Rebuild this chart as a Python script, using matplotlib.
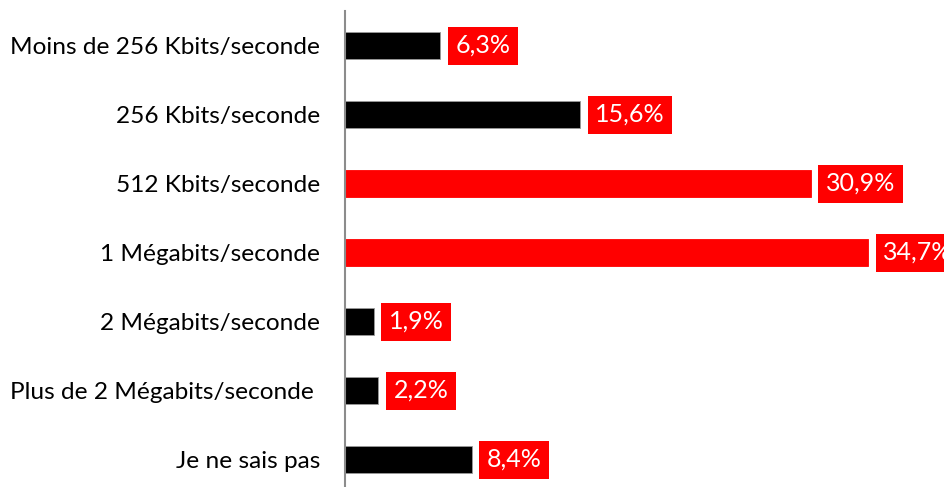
import matplotlib
matplotlib.use("Agg")
import matplotlib.pyplot as plt

categories = ["Moins de 256 Kbits/seconde", "256 Kbits/seconde", "512 Kbits/seconde",
              "1 Mégabits/seconde", "2 Mégabits/seconde", "Plus de 2 Mégabits/seconde ",
              "Je ne sais pas"]
values = [6.3, 15.6, 30.9, 34.7, 1.9, 2.2, 8.4]
value_labels = ["6,3%", "15,6%", "30,9%", "34,7%", "1,9%", "2,2%", "8,4%"]
highlight = [False, False, True, True, False, False, False]

plt.rcParams['font.family'] = ['Lato', 'DejaVu Sans']

W, H = 944, 487
fig = plt.figure(figsize=(W / 100, H / 100), dpi=100)
left_px, top_px, bottom_px = 345, 11, 494
ax = fig.add_axes([left_px / W, (H - bottom_px) / H, (W - left_px) / W, (bottom_px - top_px) / H])

ypos = list(range(len(categories)))
colors = ["#FF0000" if h else "#000000" for h in highlight]
edges = ["#FF0000" if h else "#9a9a9a" for h in highlight]
ax.barh(ypos, values, height=0.4, color=colors, edgecolor=edges, linewidth=0.6)

ax.set_xlim(0, (W - left_px) / 15.07)
ax.set_ylim(len(categories) - 0.5, -0.5)
ax.set_yticks(ypos)
ax.set_yticklabels(categories, fontsize=17.6, color="#000000")
ax.tick_params(axis='y', length=0, pad=18)
ax.set_xticks([])
for s in ["top", "right", "bottom"]:
    ax.spines[s].set_visible(False)
ax.spines["left"].set_color("#8c8c8c")
ax.spines["left"].set_linewidth(1.5)

for y, v, lab in zip(ypos, values, value_labels):
    ax.annotate(lab, xy=(v, y), xytext=(11, 0), textcoords="offset points",
                ha="left", va="center", fontsize=18, color="white",
                bbox=dict(boxstyle="square,pad=0.3", fc="#FF0000", ec="none"),
                annotation_clip=False)

fig.savefig("out.png", dpi=100)
